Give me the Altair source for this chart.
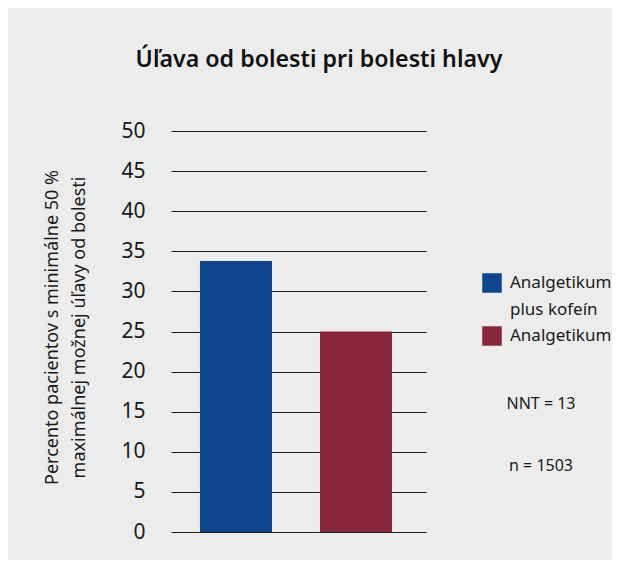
import altair as alt
import pandas as pd

groups = ["Analgetikum plus kofeín", "Analgetikum"]
values = [33.8, 25.0]
colors = ["#0f458b", "#88273a"]
y_ticks = [0, 5, 10, 15, 20, 25, 30, 35, 40, 45, 50]
title_text = "Úľava od bolesti pri bolesti hlavy"
y_title = ["Percento pacientov s minimálne 50 %", "maximálnej možnej úľavy od bolesti"]
notes = ["NNT = 13", "n = 1503"]
note_rows = [0, 1]

FONT = "Noto Sans"

df = pd.DataFrame({"group": groups, "value": values})
notes_df = pd.DataFrame({"note": notes, "row": note_rows})

LEGEND_ENCODING = {
    "labels": {
        "lineHeight": {"value": 27},
    }
}


class PatchedLayer(alt.LayerChart):
    def to_dict(self, *args, **kwargs):
        kwargs["validate"] = False
        spec = super().to_dict(*args, **kwargs)
        try:
            spec["layer"][0]["encoding"]["color"]["legend"]["encoding"] = LEGEND_ENCODING
        except (KeyError, IndexError, TypeError):
            pass
        return spec


bars = alt.Chart(df).mark_bar().encode(
    x=alt.X("group:N", sort=groups, axis=None,
            scale=alt.Scale(paddingInner=0.4, paddingOuter=0.2625, align=0.46)),
    y=alt.Y("value:Q",
            scale=alt.Scale(domain=[0, 50], nice=False),
            axis=alt.Axis(values=y_ticks, title=y_title, grid=True, ticks=False,
                          domain=False, labelFontSize=21, labelFont=FONT,
                          labelColor="#1a1a1a", labelPadding=26,
                          gridColor="#1e1e1e", gridWidth=1, gridOpacity=1,
                          titleFont=FONT, titleFontSize=18, titleFontWeight="normal",
                          titleColor="#1a1a1a", titleLineHeight=27,
                          titleAngle=-90, titleBaseline="top", titleAlign="center",
                          titleX=-128, titleY=196)),
    color=alt.Color("group:N", sort=groups,
                    scale=alt.Scale(domain=groups, range=colors),
                    legend=alt.Legend(title=None, orient="none", legendX=311, legendY=142,
                                      symbolType="square", symbolSize=380,
                                      symbolStrokeWidth=0, symbolOpacity=1,
                                      labelFont=FONT, labelFontSize=17, labelColor="#1a1a1a",
                                      labelOffset=8, labelBaseline="middle",
                                      labelLimit=300, rowPadding=8,
                                      labelExpr="datum.label == 'Analgetikum plus kofeín' ? ['Analgetikum', 'plus kofeín'] : datum.label")),
)

note_text = alt.Chart(notes_df).mark_text(
    font=FONT, fontSize=16, color="#1a1a1a", align="center", baseline="middle"
).encode(
    text="note:N",
    x=alt.value(370),
    y=alt.Y("row:Q", axis=None, scale=alt.Scale(domain=[0, 1], range=[273, 335])),
)

chart = PatchedLayer(layer=[bars, note_text]).resolve_scale(y="independent").properties(
    width=255,
    height=401,
    background="#ececec",
    padding={"left": 163, "top": 123, "right": 186, "bottom": 28},
    autosize=alt.AutoSizeParams(type="none"),
    title=alt.TitleParams(title_text, font=FONT, fontSize=23.2, fontWeight=600,
                          color="#111111", anchor="middle", dx=20.5, offset=48),
).configure_view(stroke=None)

chart.save("out.html", embed_options={"renderer": "svg", "actions": False})
